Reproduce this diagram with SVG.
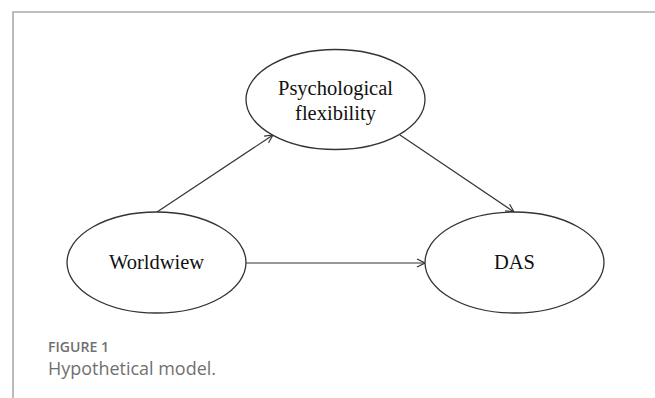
<svg xmlns="http://www.w3.org/2000/svg" width="655" height="398" viewBox="0 0 655 398">
<style>
.node ellipse{fill:#fff;stroke:#333;stroke-width:1.3}
.node text{font-family:"Liberation Serif","Times New Roman",serif;font-size:20.5px;fill:#111;text-anchor:middle}
.edge{stroke:#333;stroke-width:1.2;fill:none;marker-end:url(#arr)}
.cap{font-family:"Open Sans","Liberation Sans",sans-serif;fill:#707070}
</style>
<defs>
<marker id="arr" markerWidth="10" markerHeight="10" refX="9" refY="5" orient="auto" markerUnits="userSpaceOnUse">
<path d="M1,1 L9,5 L1,9" fill="none" stroke="#333" stroke-width="1.2"/>
</marker>
</defs>
<rect width="655" height="398" fill="#fff"/>
<path d="M13,398 V12 H655" fill="none" stroke="#aaa" stroke-width="1.6"/>
<g id="connectors">
<line class="edge" x1="157" y1="212" x2="273" y2="135"/>
<line class="edge" x1="400" y1="135" x2="514" y2="212"/>
<line class="edge" x1="246" y1="263" x2="425" y2="263"/>
</g>
<g id="psych" class="node">
<ellipse cx="335.5" cy="99.5" rx="89.5" ry="50"/>
<text x="335.5" y="95">Psychological</text>
<text x="335.5" y="120">flexibility</text>
</g>
<g id="worldwiew" class="node">
<ellipse cx="156.5" cy="262.5" rx="89.5" ry="50.5"/>
<text x="156.5" y="269">Worldwiew</text>
</g>
<g id="das" class="node">
<ellipse cx="514.5" cy="262.5" rx="89.5" ry="50.5"/>
<text x="514.5" y="269">DAS</text>
</g>
<text class="cap" x="48" y="352" font-size="14" font-weight="600" textLength="61" lengthAdjust="spacingAndGlyphs">FIGURE 1</text>
<text class="cap" x="48" y="375" font-size="18.5" font-weight="400" textLength="168" lengthAdjust="spacingAndGlyphs">Hypothetical model.</text>
</svg>
